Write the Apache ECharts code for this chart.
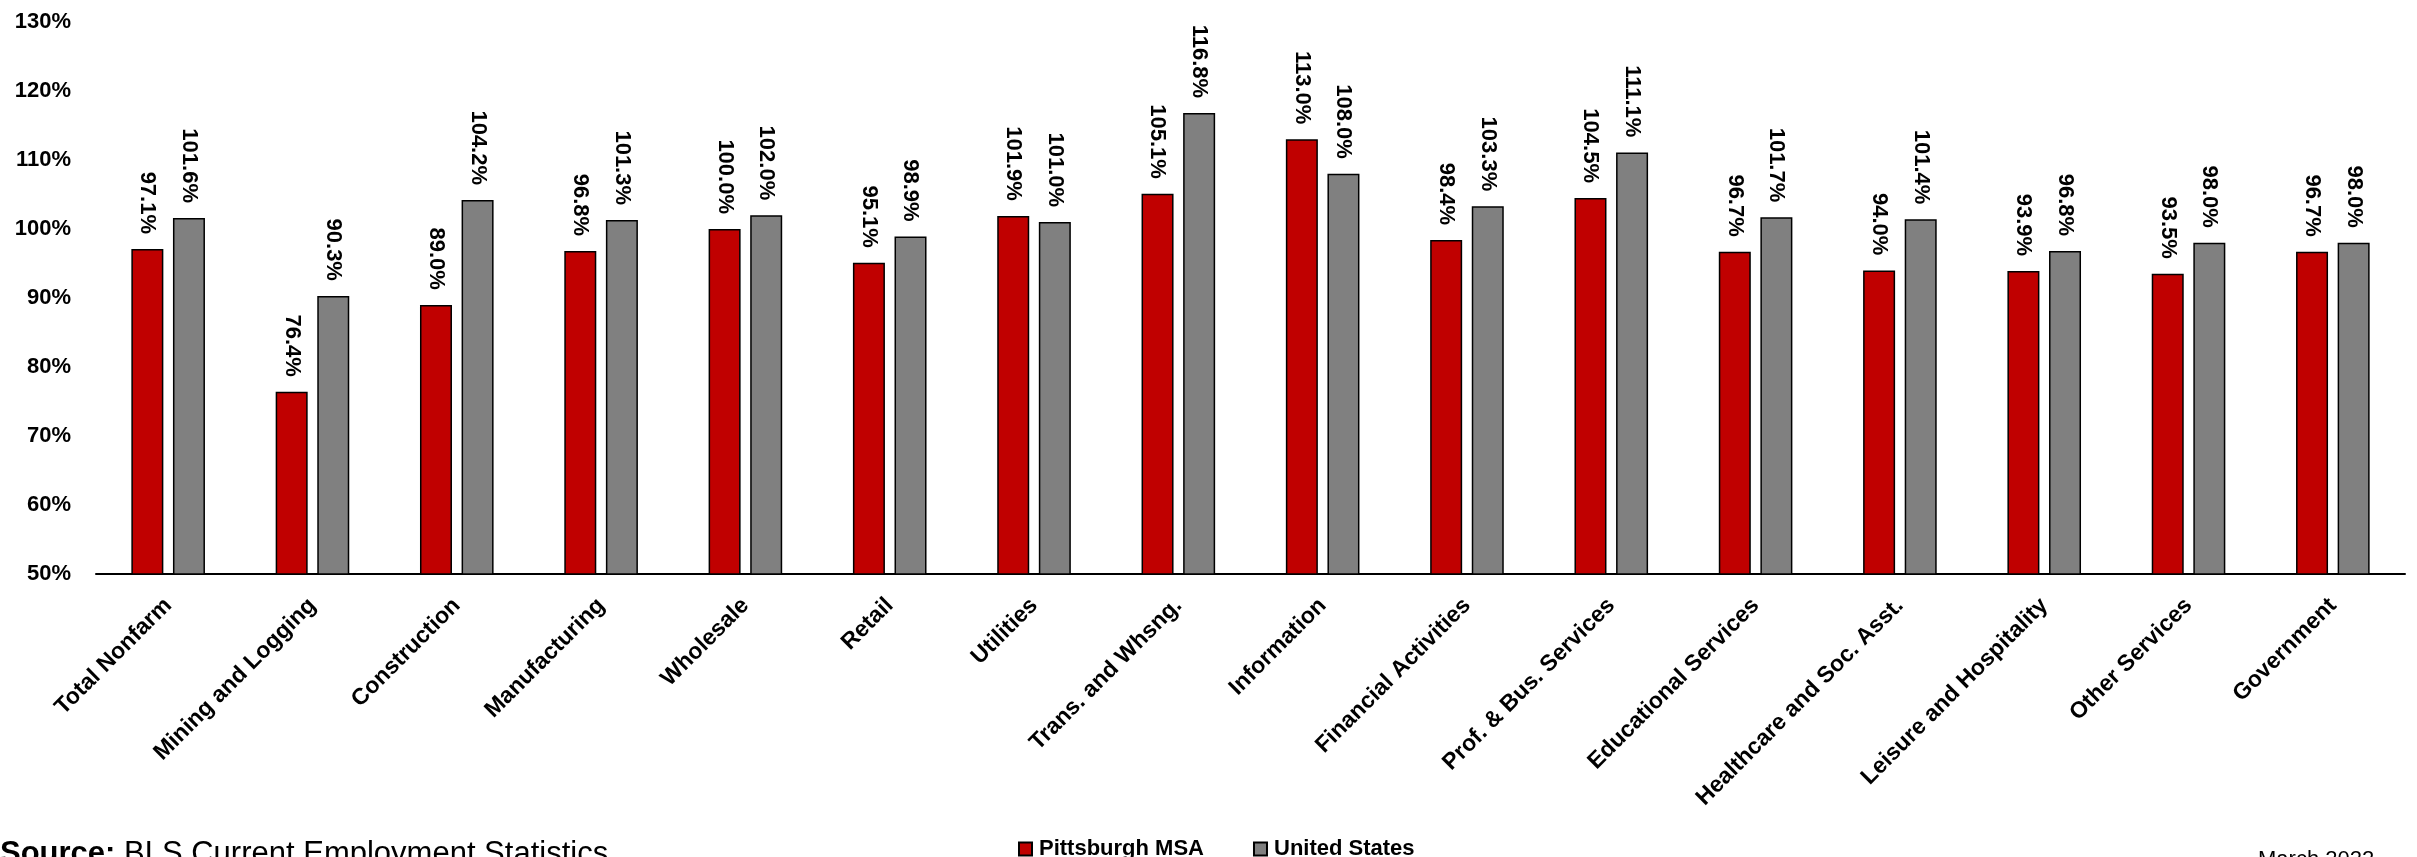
<!DOCTYPE html>
<html lang="en">
  <head>
    <meta charset="utf-8" />
    <title>Pittsburgh MSA vs United States employment by sector</title>
    <script src="https://cdn.jsdelivr.net/npm/echarts@6/dist/echarts.min.js"></script>
    <style>
      * {
        margin: 0;
        padding: 0;
      }
      html,
      body,
      #chart {
        width: 100%;
        height: 100%;
        overflow: hidden;
        background: #fff;
      }
    </style>
  </head>
  <body>
    <div id="chart"></div>
    <script>
      var categories = [
        "Total Nonfarm",
        "Mining and Logging",
        "Construction",
        "Manufacturing",
        "Wholesale",
        "Retail",
        "Utilities",
        "Trans. and Whsng.",
        "Information",
        "Financial Activities",
        "Prof. & Bus. Services",
        "Educational Services",
        "Healthcare and Soc. Asst.",
        "Leisure and Hospitality",
        "Other Services",
        "Government",
      ];
      var pittsburgh = [
        97.1, 76.4, 89.0, 96.8, 100.0, 95.1, 101.9, 105.1, 113.0, 98.4, 104.5,
        96.7, 94.0, 93.9, 93.5, 96.7,
      ];
      var unitedStates = [
        101.6, 90.3, 104.2, 101.3, 102.0, 98.9, 101.0, 116.8, 108.0, 103.3,
        111.1, 101.7, 101.4, 96.8, 98.0, 98.0,
      ];

      var font = "Liberation Sans";
      var chart = echarts.init(document.getElementById("chart"));

      // shared label look for both series
      var barLabel = {
        show: true,
        position: "top",
        rotate: -90,
        align: "right",
        verticalAlign: "middle",
        distance: 15,
        fontFamily: font,
        fontWeight: "bold",
        fontSize: 22,
        color: "#000",
        formatter: function (p) {
          return p.value.toFixed(1) + "%";
        },
      };

      chart.setOption({
        animation: false,
        textStyle: { fontFamily: font },
        grid: { left: 96, right: 12, top: 22, bottom: 283 },
        legend: {
          left: 1013,
          top: 833,
          itemWidth: 13,
          itemHeight: 13,
          itemGap: 49,
          icon: "rect",
          textStyle: {
            fontFamily: font,
            fontWeight: "bold",
            fontSize: 22,
            color: "#000",
            padding: [0, 0, 0, 2],
          },
          data: ["Pittsburgh MSA", "United States"],
        },
        xAxis: {
          type: "category",
          data: categories,
          axisLine: { lineStyle: { color: "#000", width: 2 } },
          axisTick: { show: false },
          axisLabel: {
            rotate: 45,
            interval: 0,
            margin: 28,
            fontFamily: font,
            fontWeight: "bold",
            fontSize: 23,
            color: "#000",
          },
        },
        yAxis: {
          type: "value",
          min: 50,
          max: 130,
          interval: 10,
          splitLine: { show: false },
          axisLine: { show: false },
          axisTick: { show: false },
          axisLabel: {
            margin: 25,
            formatter: "{value}%",
            fontFamily: font,
            fontWeight: "bold",
            fontSize: 22,
            color: "#000",
          },
        },
        series: [
          {
            name: "Pittsburgh MSA",
            type: "bar",
            data: pittsburgh,
            barWidth: 32,
            barGap: "30%",
            itemStyle: { color: "#C00000", borderColor: "#000", borderWidth: 1.5 },
            label: barLabel,
          },
          {
            name: "United States",
            type: "bar",
            data: unitedStates,
            barWidth: 32,
            itemStyle: { color: "#808080", borderColor: "#000", borderWidth: 1.5 },
            label: barLabel,
          },
        ],
        graphic: [
          {
            type: "text",
            left: 0,
            top: 839,
            style: {
              text: "{b|Source:} BLS Current Employment Statistics",
              font: "31px " + font,
              fill: "#000",
              rich: {
                b: { fontWeight: "bold", fontSize: 31, fontFamily: font },
              },
            },
          },
          {
            type: "text",
            left: 2258,
            top: 849,
            style: {
              text: "March 2022",
              font: "22px " + font,
              fill: "#000",
            },
          },
        ],
      });
    </script>
  </body>
</html>
